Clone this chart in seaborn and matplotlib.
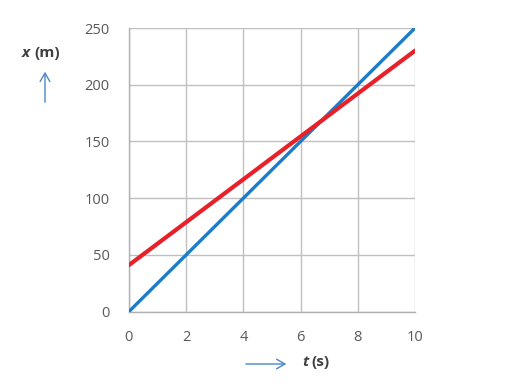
import matplotlib
matplotlib.use("Agg")
import matplotlib.pyplot as plt
import seaborn as sns
import pandas as pd

t_values = [0, 10]
x_blue = [0, 250]
x_red = [41, 230]
x_ticks = [0, 2, 4, 6, 8, 10]
y_ticks = [0, 50, 100, 150, 200, 250]

sns.set_theme(style="white")
plt.rcParams['font.family'] = ['Open Sans', 'DejaVu Sans']

fig = plt.figure(figsize=(5.22, 3.89), dpi=100)
ax = fig.add_axes([0.247, 0.199, 0.548, 0.729])

df_b = pd.DataFrame({"t": t_values, "x": x_blue})
df_r = pd.DataFrame({"t": t_values, "x": x_red})
sns.lineplot(data=df_b, x="t", y="x", ax=ax, color="#1b7cc8", linewidth=2.4, zorder=3)
sns.lineplot(data=df_r, x="t", y="x", ax=ax, color="#e8202a", linewidth=3.0, zorder=4,
             solid_capstyle="round")

ax.set_xlim(0, 10)
ax.set_ylim(0, 250)
ax.set_xticks(x_ticks)
ax.set_yticks(y_ticks)
ax.set_xticklabels([str(v) for v in x_ticks])
ax.set_yticklabels([str(v) for v in y_ticks])
ax.grid(True, color="#c0c0c0", linewidth=1.0)
for s in ["top", "right"]:
    ax.spines[s].set_visible(False)
for s in ["left", "bottom"]:
    ax.spines[s].set_color("#b0b0b0")
    ax.spines[s].set_linewidth(1.0)
ax.tick_params(axis="both", which="both", length=5, width=1.0, color="#b0b0b0",
               labelsize=10.5, labelcolor="#595959")
ax.tick_params(axis="y", pad=9)
ax.tick_params(axis="x", pad=8)
ax.set_xlabel("")
ax.set_ylabel("")

# axis titles with arrows
lab = dict(va="center", fontsize=11, fontweight="bold", color="#404040")
fig.text(22/522, 1-53/389, "x", ha="left", fontstyle="italic", **lab)
fig.text(34/522, 1-53/389, "(m)", ha="left", **lab)
fig.text(302/522, 1-362/389, "t", ha="left", fontstyle="italic", **lab)
fig.text(311/522, 1-362/389, "(s)", ha="left", **lab)
fig.patches.append(matplotlib.patches.FancyArrowPatch(
    (45/522, 1-105/389), (45/522, 1-69/389), transform=fig.transFigure,
    arrowstyle="->,head_length=6,head_width=3.5", color="#4a86c8", linewidth=1.0))
fig.patches.append(matplotlib.patches.FancyArrowPatch(
    (243/522, 1-364/389), (289/522, 1-364/389), transform=fig.transFigure,
    arrowstyle="->,head_length=6,head_width=3.5", color="#4a86c8", linewidth=1.0))

fig.savefig("out.png", dpi=100)
